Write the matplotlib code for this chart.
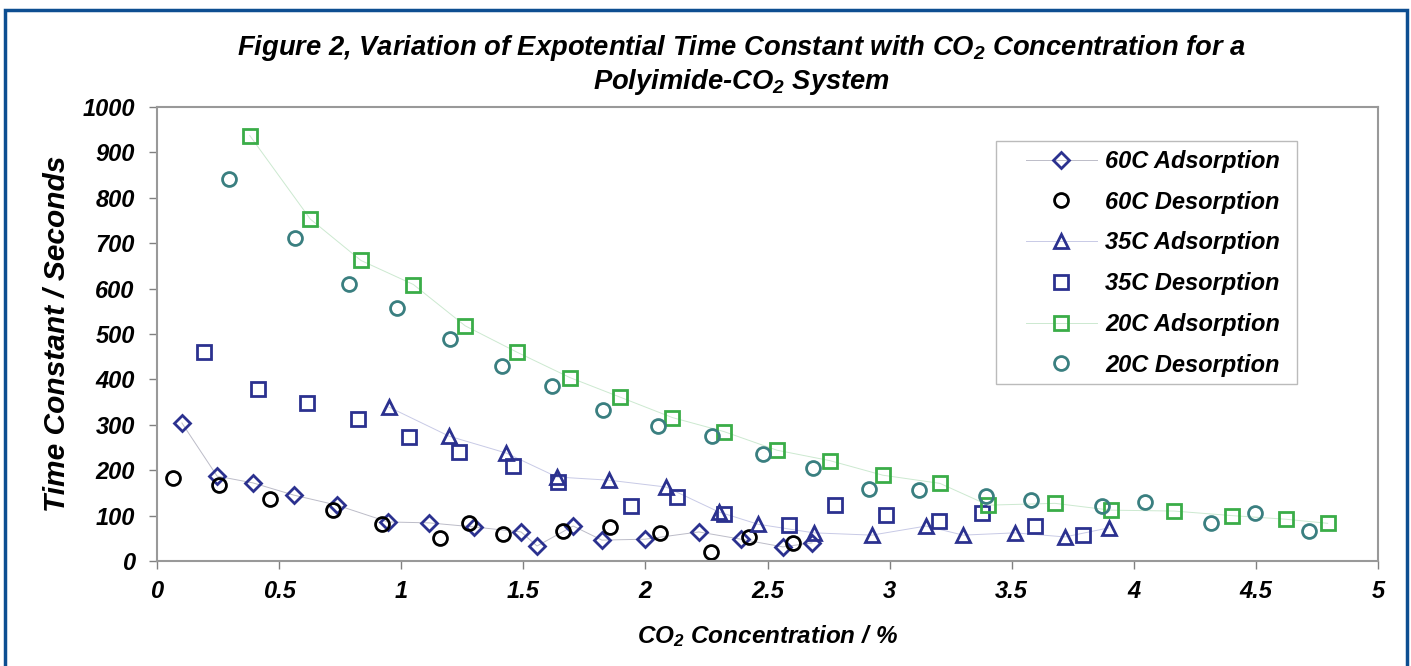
"""Polyimide-CO2 时间常数散点图。"""

import matplotlib
import matplotlib.pyplot as plt
import matplotlib.patches as mpatches

matplotlib.use("Agg")

plt.rcParams["font.family"] = ["Liberation Sans", "DejaVu Sans"]
plt.rcParams["font.weight"] = "bold"
plt.rcParams["font.style"] = "italic"
plt.rcParams["axes.labelweight"] = "bold"
plt.rcParams["mathtext.fontset"] = "custom"
plt.rcParams["mathtext.rm"] = "Liberation Sans:bold:italic"
plt.rcParams["mathtext.it"] = "Liberation Sans:bold:italic"
plt.rcParams["mathtext.bf"] = "Liberation Sans:bold:italic"

# 数据
ads60_x = [0.102, 0.246, 0.393, 0.561, 0.737, 0.946, 1.114, 1.298, 1.491, 1.556,
           1.704, 1.822, 1.998, 2.219, 2.391, 2.563, 2.682]
ads60_y = [304, 187, 172, 145, 123, 86, 84, 75, 64, 33, 77, 46, 48, 64, 48, 31, 40]

des60_x = [0.064, 0.254, 0.463, 0.721, 0.921, 1.159, 1.278, 1.417, 1.663, 1.855,
           2.06, 2.269, 2.424, 2.604]
des60_y = [183, 167, 137, 112, 82, 51, 84, 59, 66, 75, 62, 20, 53, 40]

ads35_x = [0.95, 1.196, 1.429, 1.638, 1.851, 2.084, 2.301, 2.461, 2.69, 2.928,
           3.149, 3.301, 3.514, 3.718, 3.898]
ads35_y = [339, 275, 238, 185, 178, 163, 108, 81, 62, 57, 77, 57, 62, 53, 73]

des35_x = [0.194, 0.412, 0.613, 0.822, 1.032, 1.237, 1.457, 1.642, 1.94, 2.129,
           2.322, 2.588, 2.775, 2.984, 3.202, 3.378, 3.595, 3.792]
des35_y = [461, 378, 348, 313, 274, 240, 209, 175, 121, 142, 104, 79, 123, 101,
           89, 106, 76, 57]

ads20_x = [0.38, 0.628, 0.835, 1.05, 1.262, 1.474, 1.691, 1.896, 2.11, 2.322,
           2.539, 2.756, 2.972, 3.206, 3.404, 3.677, 3.905, 4.165, 4.401, 4.622, 4.794]
ads20_y = [937, 753, 662, 609, 518, 460, 404, 361, 316, 285, 244, 221, 189, 171,
           123, 127, 112, 110, 100, 92, 83]

des20_x = [0.295, 0.565, 0.786, 0.984, 1.201, 1.412, 1.616, 1.828, 2.052, 2.271,
           2.482, 2.685, 2.917, 3.119, 3.395, 3.58, 3.87, 4.046, 4.317, 4.498, 4.716]
des20_y = [841, 712, 611, 557, 490, 430, 386, 333, 297, 275, 235, 204, 159, 156,
           144, 134, 121, 131, 84, 106, 66]

NAVY = "#2b318f"
GREEN = "#3aad48"
TEAL = "#3a7f80"

W, H = 1411, 666
fig = plt.figure(figsize=(W / 100, H / 100), dpi=100)
ax = fig.add_axes([157 / W, 105 / H, 1221 / W, 454 / H])

ms = 10
mew = 2.0
ax.plot(ads60_x, ads60_y, marker="D", ms=ms * 0.8, mew=mew, mec=NAVY, mfc="none",
        color="#bcbcc8", lw=0.7, label="60C Adsorption")
ax.plot(des60_x, des60_y, marker="o", ms=ms, mew=mew, mec="black", mfc="none",
        ls="none", label="60C Desorption")
ax.plot(ads35_x, ads35_y, marker="^", ms=ms, mew=mew, mec=NAVY, mfc="none",
        color="#c8cae6", lw=0.7, label="35C Adsorption")
ax.plot(des35_x, des35_y, marker="s", ms=ms, mew=mew, mec=NAVY, mfc="none",
        ls="none", label="35C Desorption")
ax.plot(ads20_x, ads20_y, marker="s", ms=ms, mew=mew, mec=GREEN, mfc="none",
        color="#cce9d0", lw=0.7, label="20C Adsorption")
ax.plot(des20_x, des20_y, marker="o", ms=ms, mew=mew, mec=TEAL, mfc="none",
        ls="none", label="20C Desorption")

ax.set_xlim(0, 5)
ax.set_ylim(0, 1000)
ax.set_xticks([0, 0.5, 1, 1.5, 2, 2.5, 3, 3.5, 4, 4.5, 5])
ax.set_xticklabels(["0", "0.5", "1", "1.5", "2", "2.5", "3", "3.5", "4", "4.5", "5"])
ax.set_yticks(range(0, 1001, 100))
ax.tick_params(axis="both", direction="out", length=6, width=1, color="#808080",
               labelsize=17)
ax.tick_params(axis="x", pad=8)
ax.tick_params(axis="y", pad=10)
for lbl in ax.get_xticklabels() + ax.get_yticklabels():
    lbl.set_fontweight("bold")
    lbl.set_fontstyle("italic")
for sp in ax.spines.values():
    sp.set_color("#999999")
    sp.set_linewidth(1.5)

ax.set_xlabel("CO$_2$ Concentration / %", fontsize=17.5, fontweight="bold", labelpad=14)
ax.set_ylabel("Time Constant / Seconds", fontsize=21.5, fontweight="bold", labelpad=8)

fig.text(742 / W, 1 - 65 / H,
         "Figure 2, Variation of Expotential Time Constant with CO$_2$ Concentration for a\n"
         "Polyimide-CO$_2$ System",
         ha="center", va="center", fontsize=19.7, linespacing=1.2)

# 图例（无框，框单独画）
leg = ax.legend(loc="upper left", bbox_to_anchor=(1026 / W, 1 - 150 / H),
                bbox_transform=fig.transFigure, fontsize=17, frameon=False,
                handlelength=3.0, handletextpad=0.35, labelspacing=0.75,
                borderpad=0, borderaxespad=0)
fig.patches.append(mpatches.Rectangle((996 / W, 1 - 384 / H), 301 / W, 243 / H,
                                      transform=fig.transFigure, fill=True,
                                      facecolor="none", edgecolor="#bbbbbb",
                                      linewidth=1.0, zorder=1))

# 外框
fig.patches.append(mpatches.Rectangle((5 / W, -0.1), 1402 / W, 1.1 - 10 / H,
                                      transform=fig.transFigure, fill=False,
                                      edgecolor="#0d4e91", linewidth=2.5))

fig.savefig("out.png", dpi=100)
